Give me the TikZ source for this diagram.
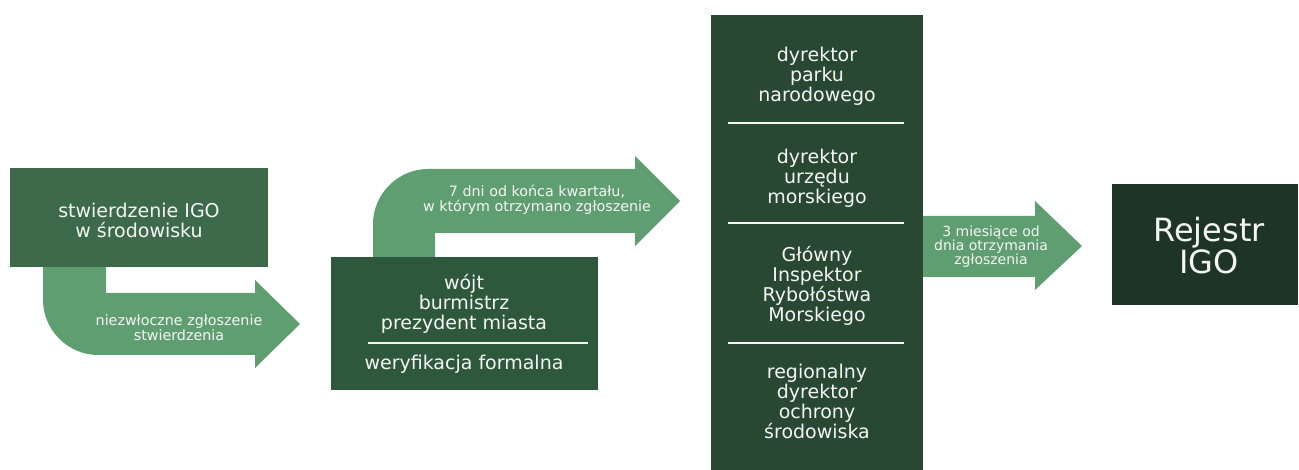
\documentclass[tikz,border=0pt]{standalone}
\usepackage{fontspec}
\setmainfont{DejaVu Sans}
\usetikzlibrary{positioning,calc}
\definecolor{boxA}{RGB}{61,106,74}
\definecolor{boxB}{RGB}{46,88,60}
\definecolor{colC}{RGB}{40,72,50}
\definecolor{regD}{RGB}{30,53,37}
\definecolor{arrowG}{RGB}{95,158,112}
\definecolor{txt}{RGB}{245,245,245}
\newcommand{\lblsize}{\fontsize{19}{20}\selectfont}
\newcommand{\tagsize}{\fontsize{14.3}{15}\selectfont}

\begin{document}
\begin{tikzpicture}[x=1pt,y=-1pt,
  panel/.style={rectangle,inner sep=0pt,outer sep=0pt},
  label/.style={text=txt,align=center,inner sep=0pt,font=\lblsize},
  tag/.style={text=txt,align=center,inner sep=0pt,font=\tagsize},
  sepline/.style={draw=txt,line width=2.5pt}]
  \useasboundingbox (0,0) rectangle (1299,470);

  % arrows under the boxes
  \fill[arrowG] (43,262) -- (43,300) .. controls (43,330) and (68,355) .. (98,355)
    -- (255,355) -- (255,368) -- (300,324) -- (255,280) -- (255,293)
    -- (106,293) -- (106,262) -- cycle;
  \fill[arrowG] (373,262) -- (373,224) .. controls (373,194) and (398,169) .. (428,169)
    -- (635,169) -- (635,156) -- (680,201) -- (635,246) -- (635,233)
    -- (435,233) -- (435,262) -- cycle;
  \fill[arrowG] (915,216) -- (1035,216) -- (1035,201) -- (1082,246)
    -- (1035,290) -- (1035,277) -- (915,277) -- cycle;

  \node[panel,fill=boxA,minimum width=258pt,minimum height=99pt] (stw) at (139,217.5) {};
  \node[panel,fill=boxB,minimum width=267pt,minimum height=133pt] (wojt) at (464.5,323.5) {};
  \node[panel,fill=colC,minimum width=212pt,minimum height=455pt] (org) at (817,242.5) {};
  \node[panel,fill=regD,minimum width=186pt,minimum height=121pt] (rej) at (1205,245) {};

  \node[label] (stwT) at (139,220) {stwierdzenie IGO\\w środowisku};
  \node[label] (wojtT) at (464,304) {wójt\\burmistrz\\prezydent miasta};
  \node[label] (werT) at (464,364) {weryfikacja formalna};
  \draw[sepline] (368,343) -- (588,343);

  \node[label] (park) at (817,76) {dyrektor\\parku\\narodowego};
  \node[label] (urz) at (817,178) {dyrektor\\urzędu\\morskiego};
  \node[label] (gir) at (817,286) {Główny\\Inspektor\\Rybołóstwa\\Morskiego};
  \node[label] (rdos) at (817,401) {regionalny\\dyrektor\\ochrony\\środowiska};
  \draw[sepline] (728,123) -- (904,123);
  \draw[sepline] (728,223) -- (904,223);
  \draw[sepline] (728,343) -- (904,343);

  \node[label,font=\fontsize{32}{32}\selectfont] (rejT) at (1209,246) {Rejestr\\IGO};

  \node[tag] (t1) at (179,328) {niezwłoczne zgłoszenie\\stwierdzenia};
  \node[tag] (t2) at (537,200) {7 dni od końca kwartału,\\w którym otrzymano zgłoszenie};
  \node[tag,font=\fontsize{14}{13.5}\selectfont] (t3) at (991,247) {3 miesiące od\\dnia otrzymania\\zgłoszenia};
\end{tikzpicture}
\end{document}
